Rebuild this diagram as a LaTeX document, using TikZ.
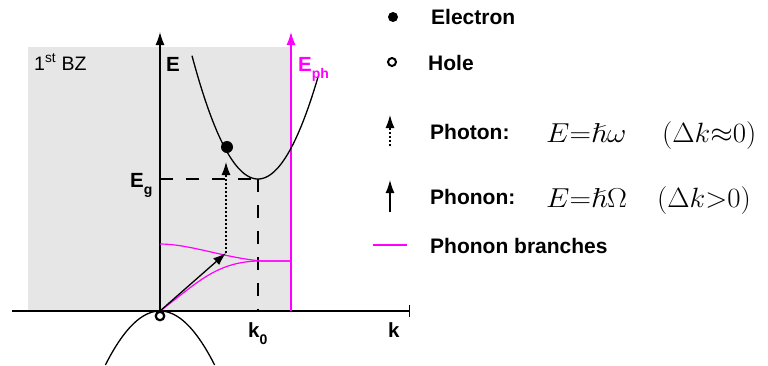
\documentclass[tikz,border=0pt]{standalone}
\usepackage{amssymb}
\usepackage[no-math]{fontspec}
\setmainfont{Liberation Sans}
\usetikzlibrary{arrows.meta}
\definecolor{bzgrey}{HTML}{E6E6E6}
\definecolor{mag}{HTML}{FF00FF}
\newcommand{\wideform}[1]{\scalebox{1.2}[1.1]{#1}}
\newcommand{\normform}[1]{\scalebox{1.16}[1.12]{#1}}
\begin{document}
\begin{tikzpicture}[x=1pt,y=-1pt,
  axis/.style={line width=1.3pt},
  tip/.style={-{Latex[length=13pt,width=9pt]}},
  lbl/.style={font=\fontsize{20.5}{24}\selectfont\bfseries, inner sep=0pt, anchor=base west},
  leg/.style={font=\fontsize{21}{25}\selectfont\bfseries, inner sep=0pt, anchor=base west},
  frm/.style={font=\fontsize{24.88}{30}\selectfont, inner sep=0pt, anchor=base west},
  dashline/.style={line width=1.3pt, dash pattern=on 13pt off 13pt},
  dotline/.style={line width=1.2pt, dash pattern=on 2pt off 2pt},
  branch/.style={mag, line width=1.2pt},
  band/.style={line width=1.3pt},
  electron/.style={circle, fill=black, inner sep=0pt, minimum size=12pt},
  hole/.style={circle, draw=black, fill=white, line width=2.2pt, inner sep=0pt, minimum size=8.5pt},
]
\useasboundingbox (0,0) rectangle (768,365);
% Brillouin zone
\fill[bzgrey] (28,47) rectangle (291,311);
% coordinates
\coordinate (O) at (160,311);
\coordinate (Etop) at (160,32);
\coordinate (kl) at (12,311);
\coordinate (kr) at (410,311);
\coordinate (Pb) at (291,311);
\coordinate (Pt) at (291,32);
\coordinate (G) at (160,179);
\coordinate (M) at (258,179);
\coordinate (K0) at (258,311);
\coordinate (P) at (226,253);
\coordinate (Q) at (226,162);
% axes
\draw[axis,-{Bar[width=12pt]}] (kl) -- (kr);
\draw[axis,tip] (O) -- (Etop);
\draw[line width=1.2pt,mag,tip] (Pb) -- (Pt);
% dashed guides
\draw[dashline] (G) -- (M);
\draw[dashline] (M) -- (K0);
% bands
\draw[band] plot[domain=192:318, samples=80] (\x,{179-0.0283*(\x-258)^2});
\draw[band] plot[domain=105.4:214.6, samples=80] (\x,{311+0.0181*(\x-160)^2});
% phonon branches
\draw[branch] (160,244) .. controls (190,244) and (225,258) .. (262,261) -- (291,261);
\draw[branch] (O) .. controls (195,285) and (215,262) .. (258,261) -- (291,261);
% transitions
\draw[line width=1.3pt,tip] (O) -- (P);
\draw[dotline,tip] (P) -- (Q);
% particles
\node[electron] (el) at (227,147) {};
\node[hole] (ho) at (160,316) {};
% labels
\node[font=\fontsize{19.5}{23}\selectfont, inner sep=0pt, anchor=base west] (bz) at (34,70) {1\textsuperscript{st} BZ};
\node[lbl] (E) at (166,71) {E};
\node[lbl,text=mag] (Eph) at (298,71) {E\raisebox{-0.35em}{\fontsize{14}{14}\selectfont ph}};
\node[lbl] (Eg) at (130,187) {E\raisebox{-0.35em}{\fontsize{14}{14}\selectfont g}};
\node[lbl] (k0) at (248,337) {k\raisebox{-0.35em}{\fontsize{14}{14}\selectfont 0}};
\node[lbl] (k) at (388,337) {k};
% legend
\node[electron, minimum size=10pt] (le) at (393,17) {};
\node[leg] (lt1) at (431,24) {Electron};
\node[hole, minimum size=8pt, line width=2pt] (lh) at (392,62) {};
\node[leg] (lt2) at (428,70) {Hole};
\coordinate (ph1) at (390,146);
\coordinate (ph2) at (390,115);
\draw[dotline,tip] (ph1) -- (ph2);
\node[leg] (lt3) at (430,139) {Photon:};
\node[frm] (f1) at (546,142) {\wideform{$E{=}\hslash\omega$}};
\node[frm] (f2) at (662,142) {\normform{$\bigl(\Delta k{\approx}0\bigr)$}};
\coordinate (pn1) at (390,212);
\coordinate (pn2) at (390,180);
\draw[line width=1.3pt,tip] (pn1) -- (pn2);
\node[leg] (lt4) at (430,204) {Phonon:};
\node[frm] (f3) at (546,207) {\wideform{$E{=}\hslash\Omega$}};
\node[frm] (f4) at (657,207) {\normform{$\bigl(\Delta k{>}0\bigr)$}};
\coordinate (b1) at (373,245);
\coordinate (b2) at (407,245);
\draw[branch] (b1) -- (b2);
\node[leg] (lt5) at (430,253) {Phonon branches};
\end{tikzpicture}
\end{document}
